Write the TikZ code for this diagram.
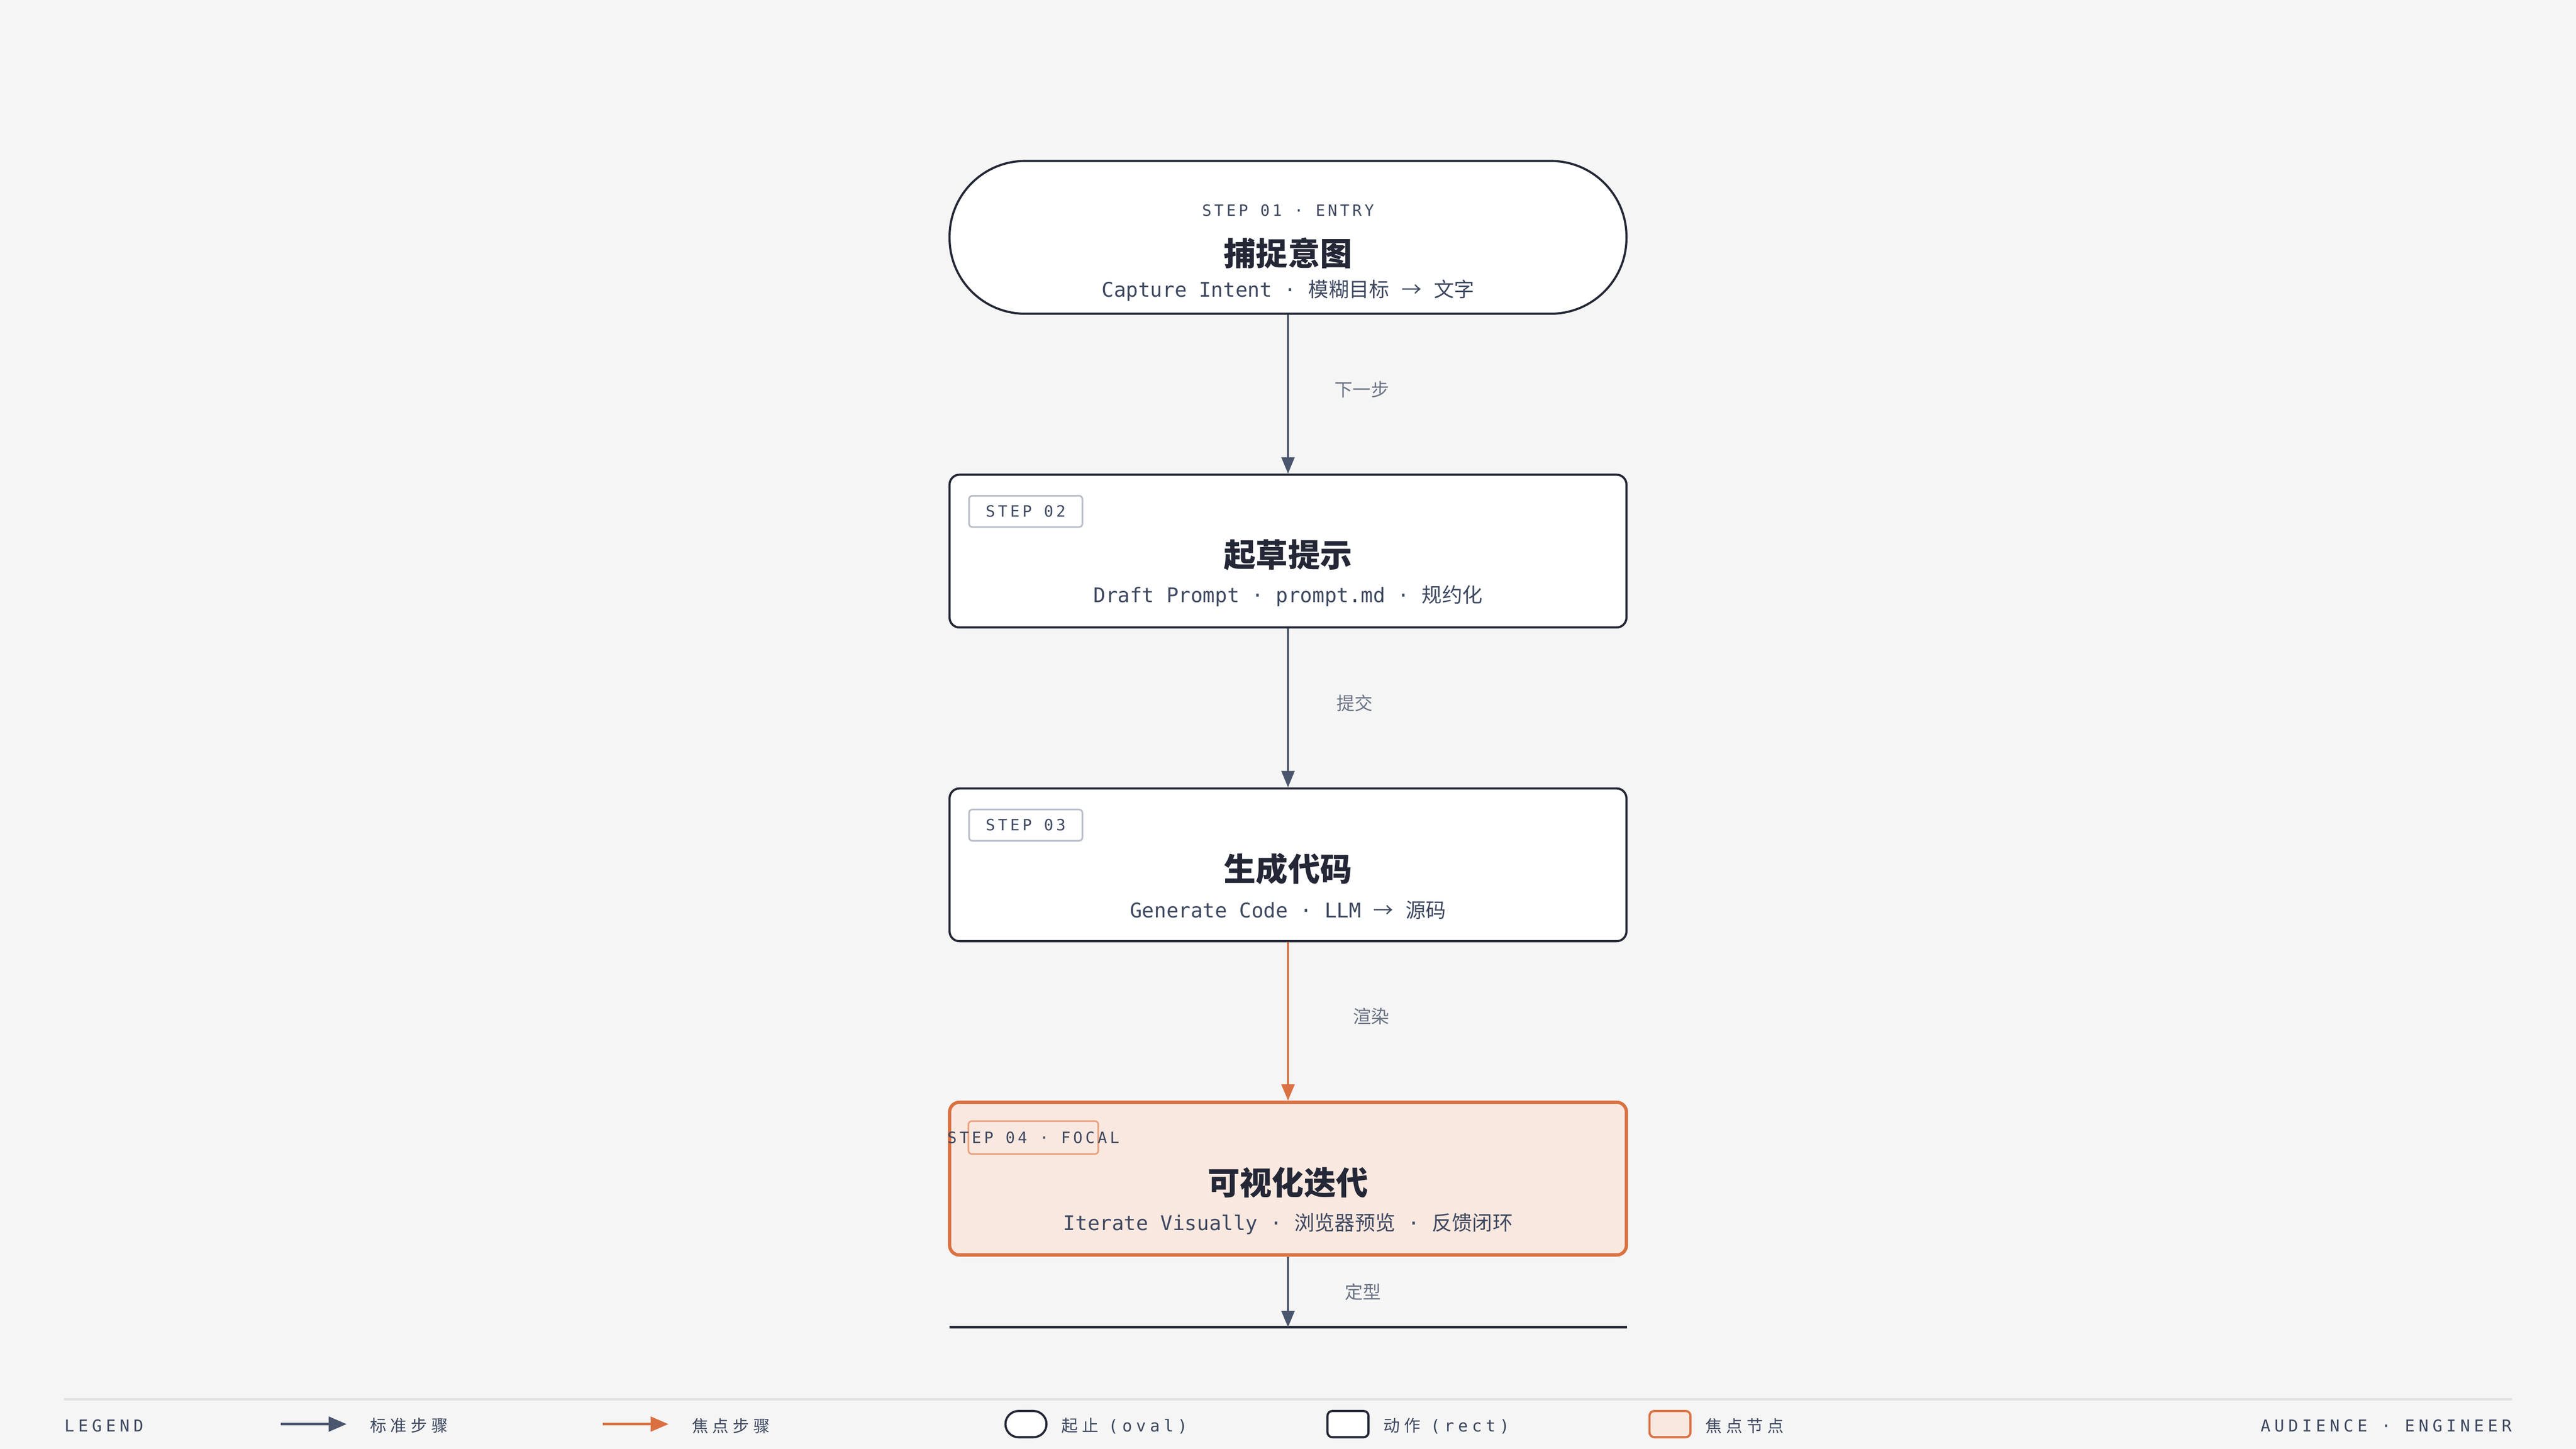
\documentclass[tikz,border=0pt]{standalone}
\usepackage{fontspec}
\setmainfont{Noto Sans CJK SC}
\newfontfamily\cjk{Noto Sans CJK SC}
\newfontfamily\cjksp{Noto Sans CJK SC}[LetterSpace=25]
\newfontfamily\mono{DejaVu Sans Mono}
\newfontfamily\monosp{DejaVu Sans Mono}[LetterSpace=18]
\newfontfamily\monolg{DejaVu Sans Mono}[LetterSpace=24]
\usetikzlibrary{positioning,arrows.meta,calc}

\definecolor{bgpaper}{HTML}{F5F5F5}
\definecolor{inkdark}{HTML}{242736}
\definecolor{inkslate}{HTML}{3E4860}
\definecolor{linkslate}{HTML}{4A556E}
\definecolor{labelgray}{HTML}{6B7385}
\definecolor{focalorange}{HTML}{DB7142}
\definecolor{focalfill}{HTML}{F9E8DF}
\definecolor{focalbadgeline}{HTML}{E9A382}
\definecolor{badgeline}{HTML}{B9BDC9}
\definecolor{rulegray}{HTML}{E2E2E2}

\tikzset{
  stepbox/.style = {draw=inkdark, line width=1.3pt, fill=white,
    rounded corners=6pt, minimum width=412pt, minimum height=93pt,
    inner sep=0pt},
  ovalbox/.style = {stepbox, rounded corners=46pt},
  focalbox/.style = {stepbox, draw=focalorange, fill=focalfill,
    line width=2pt},
  badge/.style = {draw=badgeline, line width=1pt, rounded corners=2pt,
    minimum width=69pt, minimum height=19pt, inner sep=0pt,
    anchor=north west, text=inkslate,
    font={\monosp\fontsize{9.5}{11}\selectfont}},
  focalbadge/.style = {badge, draw=focalbadgeline, minimum width=79pt,
    minimum height=20pt},
  tagtext/.style = {inner sep=0pt, text=inkslate,
    font={\monosp\fontsize{9.5}{11}\selectfont}},
  titletext/.style = {inner sep=0pt, text=inkdark,
    font={\cjk\bfseries\fontsize{19.5}{22}\selectfont}},
  subtext/.style = {inner sep=0pt, text=inkslate,
    font={\fontsize{12.3}{14}\selectfont}},
  flowlabel/.style = {inner sep=0pt, anchor=west, text=labelgray,
    font={\cjk\fontsize{11}{13}\selectfont}},
  flow/.style = {draw=linkslate, line width=1pt,
    -{Triangle[length=10pt,width=8pt]}},
  focalflow/.style = {flow, draw=focalorange, line width=1.3pt},
  endcap/.style = {minimum width=412pt, minimum height=0pt, inner sep=0pt},
  legendtag/.style = {inner sep=0pt, anchor=west, text=inkslate,
    font={\monolg\fontsize{10}{12}\selectfont}},
  legendtext/.style = {inner sep=0pt, anchor=west, text=inkslate,
    font={\cjksp\fontsize{10}{12}\selectfont}},
  legendflow/.style = {draw=linkslate, line width=1.5pt,
    -{Triangle[length=11pt,width=9pt]}},
  legendicon/.style = {draw=inkdark, line width=1.3pt, fill=white,
    minimum width=25pt, minimum height=16pt, inner sep=0pt,
    rounded corners=3pt}
}

\begin{document}
\begin{tikzpicture}[x=1pt, y=1pt]
  \useasboundingbox[fill=bgpaper] (0,0) rectangle (1568,-882);

  % steps
  \node[ovalbox] (n1) at (784,-144.5) {};
  \node[tagtext] (g1) at ($(n1.center)+(0,16.5)$) {STEP 01 · ENTRY};
  \node[titletext] (t1) at ($(n1.center)+(0,-9.5)$) {捕捉意图};
  \node[subtext] (s1) at ($(n1.center)+(0,-32.5)$)
    {{\mono Capture Intent · }{\cjk 模糊目标}{\mono{} }{\cjk →}{\mono{} }{\cjk 文字}};

  \node[stepbox, below=96.7pt of n1] (n2) {};
  \node[badge] (b2) at ($(n2.north west)+(12,-13)$) {STEP 02};
  \node[titletext] (t2) at ($(n2.center)+(0,-2.5)$) {起草提示};
  \node[subtext] (s2) at ($(n2.center)+(0,-27.5)$)
    {{\mono Draft Prompt · prompt.md · }{\cjk 规约化}};

  \node[stepbox, below=96.7pt of n2] (n3) {};
  \node[badge] (b3) at ($(n3.north west)+(12,-13)$) {STEP 03};
  \node[titletext] (t3) at ($(n3.center)+(0,-2.5)$) {生成代码};
  \node[subtext] (s3) at ($(n3.center)+(0,-27.5)$)
    {{\mono Generate Code · LLM }{\cjk →}{\mono{} }{\cjk 源码}};

  \node[focalbox, below=96.4pt of n3] (n4) {};
  \node[focalbadge] (b4) at ($(n4.north west)+(12,-12)$) {};
  \node[tagtext] (b4t) at (b4.center) {STEP 04 · FOCAL};
  \node[titletext] (t4) at ($(n4.center)+(0,-2.5)$) {可视化迭代};
  \node[subtext] (s4) at ($(n4.center)+(0,-27.5)$)
    {{\mono Iterate Visually · }{\cjk 浏览器预览}{\mono{} · }{\cjk 反馈闭环}};

  \node[endcap, below=43pt of n4] (n5) {};
  \draw[inkdark, line width=1.5pt] (n5.north west) -- (n5.north east);

  % connectors
  \draw[flow] (n1) -- node[flowlabel, xshift=28pt, yshift=3pt] (l1) {下一步} (n2);
  \draw[flow] (n2) -- node[flowlabel, xshift=29pt, yshift=3pt] (l2) {提交} (n3);
  \draw[focalflow] (n3) -- node[flowlabel, xshift=39pt, yshift=3pt] (l3) {渲染} (n4);
  \draw[flow] (n4) -- node[flowlabel, xshift=34pt] (l4) {定型} (n5);

  % legend
  \draw[rulegray, line width=1.5pt] (39,-852) -- (1529,-852);
  \node[legendtag] (lg) at (39,-868) {LEGEND};
  \coordinate (ka) at (171,-867);
  \coordinate (kb) at (211,-867);
  \draw[legendflow] (ka) -- (kb);
  \node[legendtext] (lt1) at (225,-868) {标准步骤};
  \coordinate (kc) at (367,-867);
  \coordinate (kd) at (407,-867);
  \draw[legendflow, draw=focalorange] (kc) -- (kd);
  \node[legendtext] (lt2) at (421,-868) {焦点步骤};
  \node[legendicon, rounded corners=8pt] (io) at (624.5,-867) {};
  \node[legendtext] (lt3) at (646,-868) {起止\hspace{6pt}{\monolg (oval)}};
  \node[legendicon] (ir) at (820.5,-867) {};
  \node[legendtext] (lt4) at (842,-868) {动作\hspace{6pt}{\monolg (rect)}};
  \node[legendicon, draw=focalorange, fill=focalfill] (if) at (1016.5,-867) {};
  \node[legendtext] (lt5) at (1038,-868) {焦点节点};
  \node[legendtag, anchor=east] (aud) at (1529,-868) {AUDIENCE · ENGINEER};
\end{tikzpicture}
\end{document}
